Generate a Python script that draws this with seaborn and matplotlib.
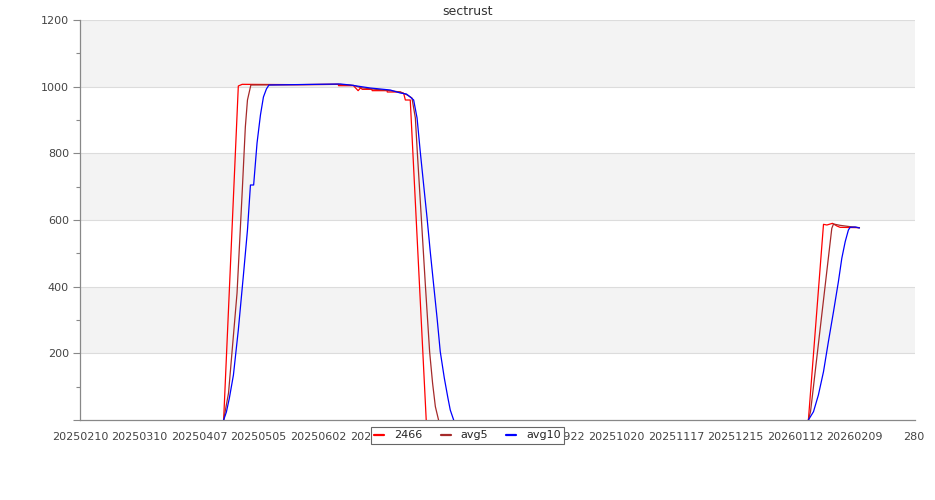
import pandas as pd
import numpy as np
import matplotlib
matplotlib.use("Agg")
import matplotlib.pyplot as plt
import seaborn as sns
from matplotlib.lines import Line2D
from matplotlib.ticker import MultipleLocator

# ==========================================================
# DATA (days since 2025-02-10, value)
# ==========================================================

START = pd.Timestamp("2025-02-10")

# series "2466"
raw_a_day = [67.5, 74.4, 76.2, 102.0, 121.4, 121.5, 128.5, 130.7, 131.8, 132.7,
             137.2, 137.3, 144.3, 144.4, 150.5, 152.1, 152.9, 155.2, 162.7]
raw_a_val = [0, 1002, 1007, 1006, 1007, 1003, 1003, 988, 996, 992,
             992, 988, 988, 984, 984, 980, 960, 960, 0]
raw_b_day = [342.3, 349.4, 351.0, 353.6, 355.7, 357.2, 366.3]
raw_b_val = [0, 587, 585, 590, 582, 578, 577]

# avg5
avg5_a_day = [67.5, 69.8, 73.8, 76.2, 77.7, 78.7, 80.3, 121.4, 128.5, 132.0,
              137.2, 144.3, 150.5, 153.8, 156.0, 157.6, 158.5, 160.4, 162.3,
              164.3, 165.7, 167.0, 168.5]
avg5_a_val = [0, 81, 381, 681, 879, 960, 1005, 1007, 1004, 997,
              993, 989, 984, 975, 966, 906, 805, 606, 405,
              205, 110, 40, 0]
avg5_b_day = [342.3, 343.3, 344.5, 353.3, 354.1, 357.2, 361.9, 366.3]
avg5_b_val = [0, 25, 90, 575, 588, 584, 580, 577]

# avg10
avg10_a_day = [67.5, 68.8, 70.2, 72.1, 74.4, 76.8, 78.7, 80.1, 81.6, 83.2,
               84.8, 86.2, 87.6, 88.8, 122.3, 127.0, 136.4, 145.8, 150.5, 153.4,
               155.2, 156.8, 158.4, 159.9, 161.5, 163.1, 164.6, 166.2, 167.8,
               169.3, 171.2, 172.9, 174.0, 175.6]
avg10_a_val = [0, 24, 66, 135, 270, 435, 570, 705, 705, 831,
               915, 969, 993, 1005, 1008, 1005, 996, 990, 981, 978,
               969, 960, 906, 805, 705, 606, 505, 405, 306,
               205, 126, 66, 30, 0]
avg10_b_day = [342.3, 344.7, 347.0, 349.4, 351.7, 354.1, 356.4, 358.0, 359.6,
               361.1, 361.9, 364.3, 366.3]
avg10_b_val = [0, 25, 75, 145, 235, 325, 415, 485, 535,
               570, 578, 579, 576]

series_names = ["2466", "avg5", "avg10"]
series_colors = ["#ff0000", "#a52a2a", "#0000ff"]

tick_days = list(range(0, 393, 28))
tick_labels = ["20250210", "20250310", "20250407", "20250505", "20250602",
               "20250630", "20250728", "20250825", "20250922", "20251020",
               "20251117", "20251215", "20260112", "20260209", "280"]

# ==========================================================
# BUILD LONG TABLE
# ==========================================================

parts = [
    ("2466", "a", raw_a_day, raw_a_val), ("2466", "b", raw_b_day, raw_b_val),
    ("avg5", "a", avg5_a_day, avg5_a_val), ("avg5", "b", avg5_b_day, avg5_b_val),
    ("avg10", "a", avg10_a_day, avg10_a_val), ("avg10", "b", avg10_b_day, avg10_b_val),
]
frames = []
for name, seg, days, vals in parts:
    frames.append(pd.DataFrame({
        "series": name,
        "seg": name + seg,
        "order": np.arange(len(days)),
        "date": START + pd.to_timedelta(days, unit="D"),
        "value": vals,
    }))
df = pd.concat(frames, ignore_index=True)

# ==========================================================
# PLOT
# ==========================================================

sns.set_style("white")
plt.rcParams["font.family"] = ["DejaVu Sans"]

fig = plt.figure(figsize=(9.35, 5), dpi=100)
ax = fig.add_axes([80 / 935, 80 / 500, 835 / 935, 400 / 500])

# alternating bands + grid
for lo in [200, 600, 1000]:
    ax.axhspan(lo, lo + 200, color="#f3f3f3", zorder=0, lw=0)
for y in range(200, 1201, 200):
    ax.axhline(y, color="#dcdcdc", lw=0.8, zorder=1)

sns.lineplot(data=df, x="date", y="value", hue="series", units="seg",
             estimator=None, sort=False, palette=dict(zip(series_names, series_colors)),
             hue_order=series_names, linewidth=0.9, legend=False, ax=ax, zorder=3)

ax.set_ylim(0, 1200)
ax.set_xlim(START + pd.Timedelta(days=0.2), START + pd.Timedelta(days=392.4))

ax.set_yticks(range(0, 1201, 200))
ax.set_yticklabels([""] + [str(v) for v in range(200, 1201, 200)])
ax.yaxis.set_minor_locator(MultipleLocator(100))
ax.tick_params(axis="y", which="major", length=5, width=0.8, color="#888888",
               labelsize=8, labelcolor="#444444", pad=3, left=True)
ax.tick_params(axis="y", which="minor", length=3, width=0.8, color="#888888", left=True)

ax.set_xticks([START + pd.Timedelta(days=d) for d in tick_days])
ax.set_xticklabels(tick_labels)
ax.tick_params(axis="x", length=0, labelsize=8, labelcolor="#444444", pad=9)

ax.set_xlabel("")
ax.set_ylabel("")
for side in ["top", "right"]:
    ax.spines[side].set_visible(False)
for side in ["left", "bottom"]:
    ax.spines[side].set_color("#888888")
    ax.spines[side].set_linewidth(0.9)

fig.suptitle("sectrust", x=0.5, y=0.99, fontsize=9, color="#333333", va="top")

handles = [Line2D([0], [0], color=c, lw=1.6) for c in series_colors]
leg = fig.legend(handles, series_names, loc="center", bbox_to_anchor=(0.5, 0.129),
                 ncol=3, fontsize=8, frameon=True, fancybox=False,
                 edgecolor="#666666", handlelength=0.9, handletextpad=0.9,
                 columnspacing=1.6, borderpad=0.35)
leg.get_frame().set_linewidth(0.8)
leg.get_frame().set_facecolor("white")
leg.get_frame().set_alpha(1)

fig.savefig("out.png", dpi=100)
